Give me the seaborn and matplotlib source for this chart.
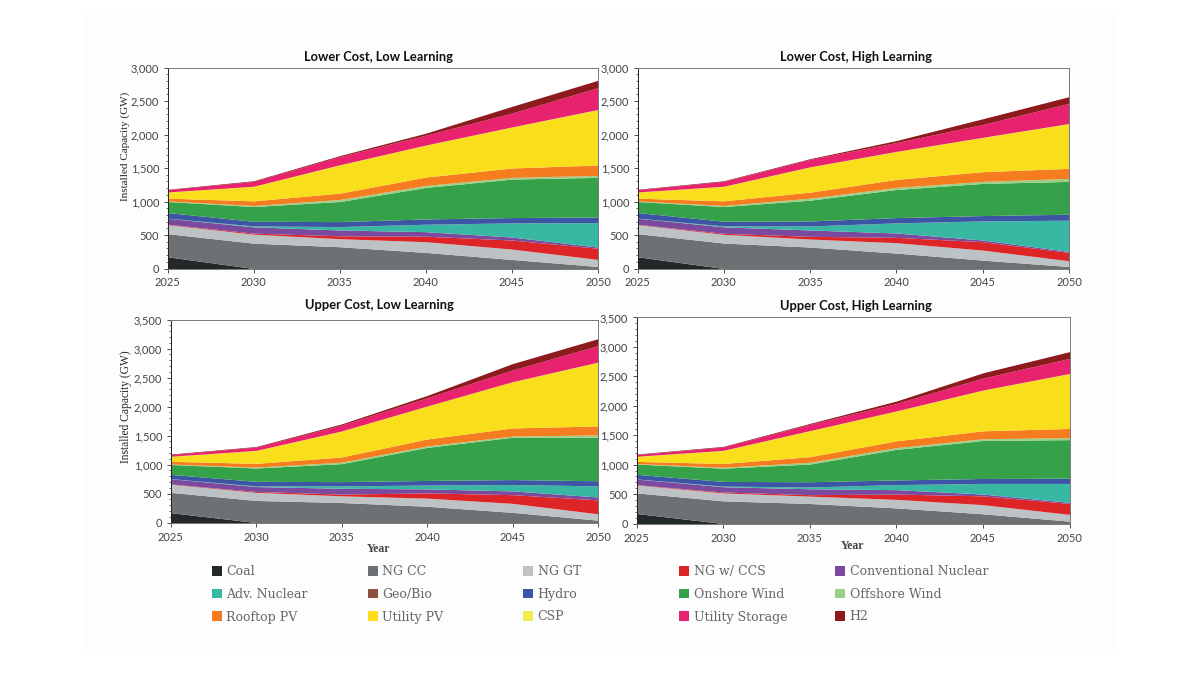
import numpy as np
import seaborn as sns
import matplotlib.pyplot as plt
from matplotlib.patches import Patch, Rectangle
from matplotlib.ticker import MultipleLocator, StrMethodFormatter

years = [2025, 2030, 2035, 2040, 2045, 2050]

techs = ["Coal", "NG CC", "NG GT", "NG w/ CCS", "Conventional Nuclear",
         "Adv. Nuclear", "Geo/Bio", "Hydro", "Onshore Wind", "Offshore Wind",
         "Rooftop PV", "Utility PV", "CSP", "Utility Storage", "H2"]
tech_colors = ["#232828", "#6d7173", "#bdc2c4", "#dd2528", "#7b4a9e",
               "#38b8a2", "#8b5240", "#3d55a5", "#35a149", "#9ccf85",
               "#f57d20", "#f9de1c", "#f4ee4c", "#e9226f", "#8d1a1c"]

# upper edge of each band in GW, same order as techs
lower_low = [
    [175, 0, 0, 0, 0, 0],
    [520, 378, 325, 240, 135, 30],
    [655, 512, 445, 400, 290, 135],
    [662, 528, 488, 482, 425, 302],
    [750, 622, 575, 550, 470, 320],
    [752, 635, 625, 660, 680, 685],
    [752, 636, 626, 661, 681, 686],
    [835, 705, 700, 740, 760, 770],
    [1000, 925, 1000, 1210, 1335, 1360],
    [1008, 940, 1030, 1240, 1360, 1390],
    [1050, 1010, 1125, 1365, 1500, 1545],
    [1140, 1225, 1545, 1840, 2110, 2370],
    [1142, 1228, 1548, 1843, 2113, 2374],
    [1175, 1300, 1670, 1990, 2320, 2700],
    [1182, 1310, 1685, 2020, 2420, 2810],
]
lower_high = [
    [175, 0, 0, 0, 0, 0],
    [520, 380, 320, 230, 125, 30],
    [655, 510, 440, 385, 275, 115],
    [660, 525, 480, 465, 400, 240],
    [750, 622, 575, 530, 425, 255],
    [752, 635, 635, 680, 710, 720],
    [752, 636, 636, 681, 711, 721],
    [835, 705, 710, 760, 790, 810],
    [1000, 925, 1020, 1180, 1270, 1300],
    [1008, 940, 1050, 1210, 1300, 1345],
    [1050, 1010, 1140, 1330, 1445, 1495],
    [1140, 1225, 1515, 1745, 1955, 2160],
    [1142, 1228, 1518, 1748, 1958, 2164],
    [1175, 1300, 1630, 1880, 2150, 2465],
    [1182, 1310, 1640, 1910, 2235, 2565],
]
upper_low = [
    [170, 0, 0, 0, 0, 0],
    [520, 380, 345, 280, 175, 40],
    [660, 520, 460, 420, 330, 150],
    [665, 535, 490, 510, 480, 390],
    [755, 620, 590, 580, 545, 440],
    [757, 630, 630, 645, 655, 630],
    [757, 631, 631, 646, 656, 631],
    [830, 710, 705, 725, 740, 720],
    [1000, 940, 1015, 1295, 1470, 1470],
    [1008, 955, 1040, 1320, 1490, 1510],
    [1055, 1020, 1130, 1440, 1630, 1665],
    [1140, 1240, 1575, 2005, 2425, 2760],
    [1142, 1243, 1578, 2008, 2428, 2765],
    [1170, 1300, 1680, 2150, 2630, 3050],
    [1180, 1310, 1700, 2190, 2740, 3170],
]
upper_high = [
    [170, 0, 0, 0, 0, 0],
    [520, 385, 340, 265, 165, 40],
    [655, 520, 465, 410, 320, 155],
    [660, 535, 490, 500, 470, 340],
    [755, 625, 590, 575, 500, 360],
    [757, 635, 620, 660, 680, 680],
    [757, 636, 621, 661, 681, 681],
    [835, 715, 710, 740, 765, 770],
    [1010, 940, 1010, 1260, 1410, 1425],
    [1018, 955, 1040, 1290, 1440, 1460],
    [1055, 1020, 1135, 1405, 1575, 1615],
    [1140, 1240, 1575, 1910, 2265, 2545],
    [1142, 1243, 1578, 1913, 2268, 2549],
    [1170, 1300, 1685, 2040, 2470, 2805],
    [1180, 1310, 1700, 2080, 2560, 2920],
]

panel_titles = ["Lower Cost, Low Learning", "Lower Cost, High Learning",
                "Upper Cost, Low Learning", "Upper Cost, High Learning"]
panel_tops = [lower_low, lower_high, upper_low, upper_high]
panel_ymax = [3000, 3000, 3500, 3500]
# left, right, bottom, top of each plot in pixels of the 1200x675 image
panel_boxes = [(167.5, 598, 268.5, 67.5), (637.5, 1069, 268.5, 67.5),
               (170.5, 598, 522.5, 319.5), (636.5, 1069.5, 523.5, 317.5)]
title_x = [0.491, 0.506, 0.488, 0.507]
title_pad = [5, 5, 7.5, 5.7]
W, H = 1200, 675

sns.set_theme(style="ticks")
plt.rcParams["font.family"] = ["Lato", "DejaVu Sans"]

fig = plt.figure(figsize=(12, 6.75), dpi=100, facecolor="white")
# the faint off-white sheet behind everything
fig.add_artist(Rectangle((83 / W, 1 - 653 / H), 1034 / W, 643 / H, transform=fig.transFigure,
                         facecolor="#fdfdfd", edgecolor="none", zorder=-1))
palette = sns.color_palette(tech_colors)

for i in range(4):
    l, r, b, t = panel_boxes[i]
    ax = fig.add_axes([l / W, 1 - b / H, (r - l) / W, (b - t) / H])
    tops = np.array(panel_tops[i], dtype=float)
    bands = np.diff(tops, axis=0, prepend=0)
    ax.stackplot(years, bands, colors=palette, linewidth=0)
    ax.set_xlim(2025, 2050)
    ax.set_ylim(0, panel_ymax[i])
    ax.set_xticks(years)
    ax.yaxis.set_major_locator(MultipleLocator(500))
    ax.yaxis.set_minor_locator(MultipleLocator(100))
    ax.yaxis.set_major_formatter(StrMethodFormatter("{x:,.0f}"))
    ax.tick_params(axis="both", which="major", labelsize=8, length=3, width=0.6,
                   color="#333333", labelcolor="#444444", pad=3)
    ax.tick_params(axis="y", which="minor", length=1.5, width=0.5, color="#333333")
    if i >= 2:
        ax.tick_params(axis="x", pad=4)
    for side in ax.spines:
        ax.spines[side].set_linewidth(0.7)
        ax.spines[side].set_color("#777777")
    ax.spines["left"].set_color("#222222")
    ax.set_title(panel_titles[i], fontsize=9.3, fontweight="bold", color="#111111",
                 x=title_x[i], pad=title_pad[i])
    if i == 0:
        ax.set_ylabel("Installed Capacity (GW)", fontsize=8, family="Liberation Serif", color="#222222")
        ax.yaxis.set_label_coords(-0.088, 0.61)
    if i == 2:
        ax.set_ylabel("Installed Capacity (GW)", fontsize=8.3, family="Liberation Serif", color="#222222")
        ax.yaxis.set_label_coords(-0.09, 0.569)
        ax.set_xlabel("Year", fontsize=8.5, family="Liberation Serif", fontweight="bold",
                      color="#444444")
        ax.xaxis.set_label_coords(0.487, -0.10)
    if i == 3:
        ax.set_xlabel("Year", fontsize=8.5, family="Liberation Serif", fontweight="bold",
                      color="#444444")
        ax.xaxis.set_label_coords(0.498, -0.08)

# five legend columns, filled row by row
legend_x = [212, 368, 523, 679, 835]
for c in range(5):
    handles = [Patch(facecolor=palette[k], edgecolor="none", label=techs[k])
               for k in range(c, 15, 5)]
    fig.legend(handles=handles, loc="upper left", bbox_to_anchor=(legend_x[c] / W, 1 - 565 / H),
               frameon=False, labelcolor="#666666", handlelength=0.78,
               handleheight=0.82, handletextpad=0.38, labelspacing=0.78,
               borderpad=0, borderaxespad=0, prop={"family": "DejaVu Serif", "size": 9})

fig.savefig("out.png", dpi=100, facecolor=fig.get_facecolor())
